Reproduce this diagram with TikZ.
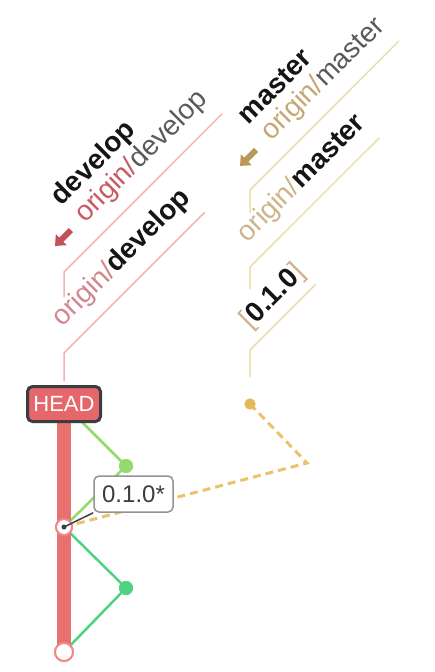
\documentclass[tikz,border=0pt]{standalone}
\usepackage{fontspec}
\setmainfont{Liberation Sans}
\usetikzlibrary{calc,arrows.meta}
\definecolor{devline}{HTML}{F4B4B4}
\definecolor{goldline}{HTML}{EEDCAE}
\definecolor{devredA}{HTML}{C85A63}
\definecolor{devredB}{HTML}{D4868C}
\definecolor{goldA}{HTML}{C4A873}
\definecolor{goldB}{HTML}{CDB58A}
\definecolor{graytxt}{HTML}{5A5A5A}
\definecolor{blk}{HTML}{151515}
\definecolor{headfill}{HTML}{E5676B}
\definecolor{headborder}{HTML}{3D3D3D}
\definecolor{barred}{HTML}{E8706F}
\definecolor{ringred}{HTML}{F08A8A}
\definecolor{greenA}{HTML}{93DB6E}
\definecolor{greenB}{HTML}{4ED47F}
\definecolor{dashy}{HTML}{E9C46A}
\definecolor{doty}{HTML}{E3B95A}
\definecolor{arrred}{HTML}{C2525A}
\definecolor{arrgold}{HTML}{B8995A}
\begin{document}
\begin{tikzpicture}[x=1pt,y=-1pt,
  lbl/.style={rotate=45, anchor=base west, inner sep=0pt, outer sep=0pt,
    font=\fontsize{28}{33}\selectfont, text=blk},
  devul/.style={draw=devline, line width=1.5pt},
  goldul/.style={draw=goldline, line width=1.5pt},
  devarrow/.style={draw=arrred, line width=6pt, -{Triangle[width=15pt,length=9pt]}},
  goldarrow/.style={draw=arrgold, line width=6pt, -{Triangle[width=15pt,length=9pt]}},
  commit/.style={circle, draw=ringred, line width=2pt, fill=white, inner sep=0pt},
  gdot/.style={circle, inner sep=0pt, minimum size=14pt}
]
\useasboundingbox[fill=white] (0,0) rectangle (434,672);

% ---------- develop labels ----------
\coordinate (dA) at (64,272);
\node[lbl] (dA2) at ($(dA)+(21.2,-48.1)$) {\textcolor{devredA}{origin/}\textcolor{graytxt}{develop}};
\node[lbl] (dA1) at ($(dA2.base west)+(-23.3,-17.7)$) {\textbf{develop}};
\draw[devarrow] ($(dA)+(7,-42)$) -- ($(dA)+(-9,-26)$);
\draw[devul] ($(dA)+(0,25)$) -- (dA) -- ($(dA2.base east)+(13.4,13.4)$);

\coordinate (dB) at (64,353);
\node[lbl] (dB1) at ($(dB)+(-1.1,-25.1)$) {\textcolor{devredB}{origin/}\textbf{develop}};
\draw[devul] ($(dB)+(0,28)$) -- (dB) -- ($(dB1.base east)+(13.1,13.1)$);

% ---------- master labels ----------
\coordinate (mA) at (250,190);
\node[lbl] (mA2) at ($(mA)+(21.2,-48.1)$) {\textcolor{goldA}{origin/}\textcolor{graytxt}{master}};
\node[lbl] (mA1) at ($(mA2.base west)+(-22.6,-16.9)$) {\textbf{master}};
\draw[goldarrow] ($(mA)+(6,-40)$) -- ($(mA)+(-10,-24)$);
\draw[goldul] ($(mA)+(0,23)$) -- (mA) -- ($(mA2.base east)+(13.4,13.4)$);

\coordinate (mB) at (250,267);
\node[lbl] (mB1) at ($(mB)+(-2.5,-23.5)$) {\textcolor{goldB}{origin/}\textbf{master}};
\draw[goldul] ($(mB)+(0,22)$) -- (mB) -- ($(mB1.base east)+(13.1,13.1)$);

\coordinate (mC) at (250,350);
\node[lbl] (mC1) at ($(mC)+(0.7,-20.5)$) {\textcolor{goldB}{[}\textbf{0.1.0}\textcolor{goldB}{]}};
\draw[goldul] ($(mC)+(0,27)$) -- (mC) -- ($(mC1.base east)+(9.9,9.9)$);

% ---------- graph ----------
\coordinate (hc) at (64,404);
\node[commit, minimum size=18pt] (c0) at (64,652) {};
\node[commit, minimum size=16pt] (c1) at (64,527) {};
\node[gdot, fill=greenB] (g1) at (126,588) {};
\node[gdot, fill=greenA] (g2) at (126,466) {};
\node[circle, fill=doty, inner sep=0pt, minimum size=11pt] (m0) at (250,404) {};
\coordinate (bend) at (307,463);

\draw[greenA, line width=2.5pt] (hc) -- (g2.center) -- (c1.center);
\draw[greenB, line width=2.5pt] (c1.center) -- (g1.center) -- (c0.center);
\draw[dashy, line width=3pt, dash pattern=on 8pt off 5pt] (m0.center) -- (bend) -- (c1.center);
\draw[barred, line width=14pt] (hc) -- (c0.center);

\node[draw=headborder, line width=3pt, fill=headfill, rounded corners=5pt,
  minimum width=73pt, minimum height=35pt, inner sep=0pt, text=white,
  font=\fontsize{22}{24}\selectfont] (head) at (hc) {HEAD};

\node[commit, minimum size=18pt] at (c0) {};
\node[commit, minimum size=16pt] at (c1) {};
\node[gdot, fill=greenB] at (g1) {};
\node[gdot, fill=greenA] at (g2) {};
\node[circle, fill=doty, inner sep=0pt, minimum size=11pt] at (m0) {};
\node[circle, fill=headborder, inner sep=0pt, minimum size=5pt] (c1dot) at (c1) {};

\node[draw=gray!85, line width=1.5pt, fill=white, rounded corners=5pt,
  minimum width=79pt, minimum height=36pt, inner sep=0pt, text=headborder,
  font=\fontsize{24}{26}\selectfont] (tag) at (133.5,494) {0.1.0*};
\draw[headborder, line width=1.5pt] (tag.south west) -- (c1dot.center);
\end{tikzpicture}
\end{document}
